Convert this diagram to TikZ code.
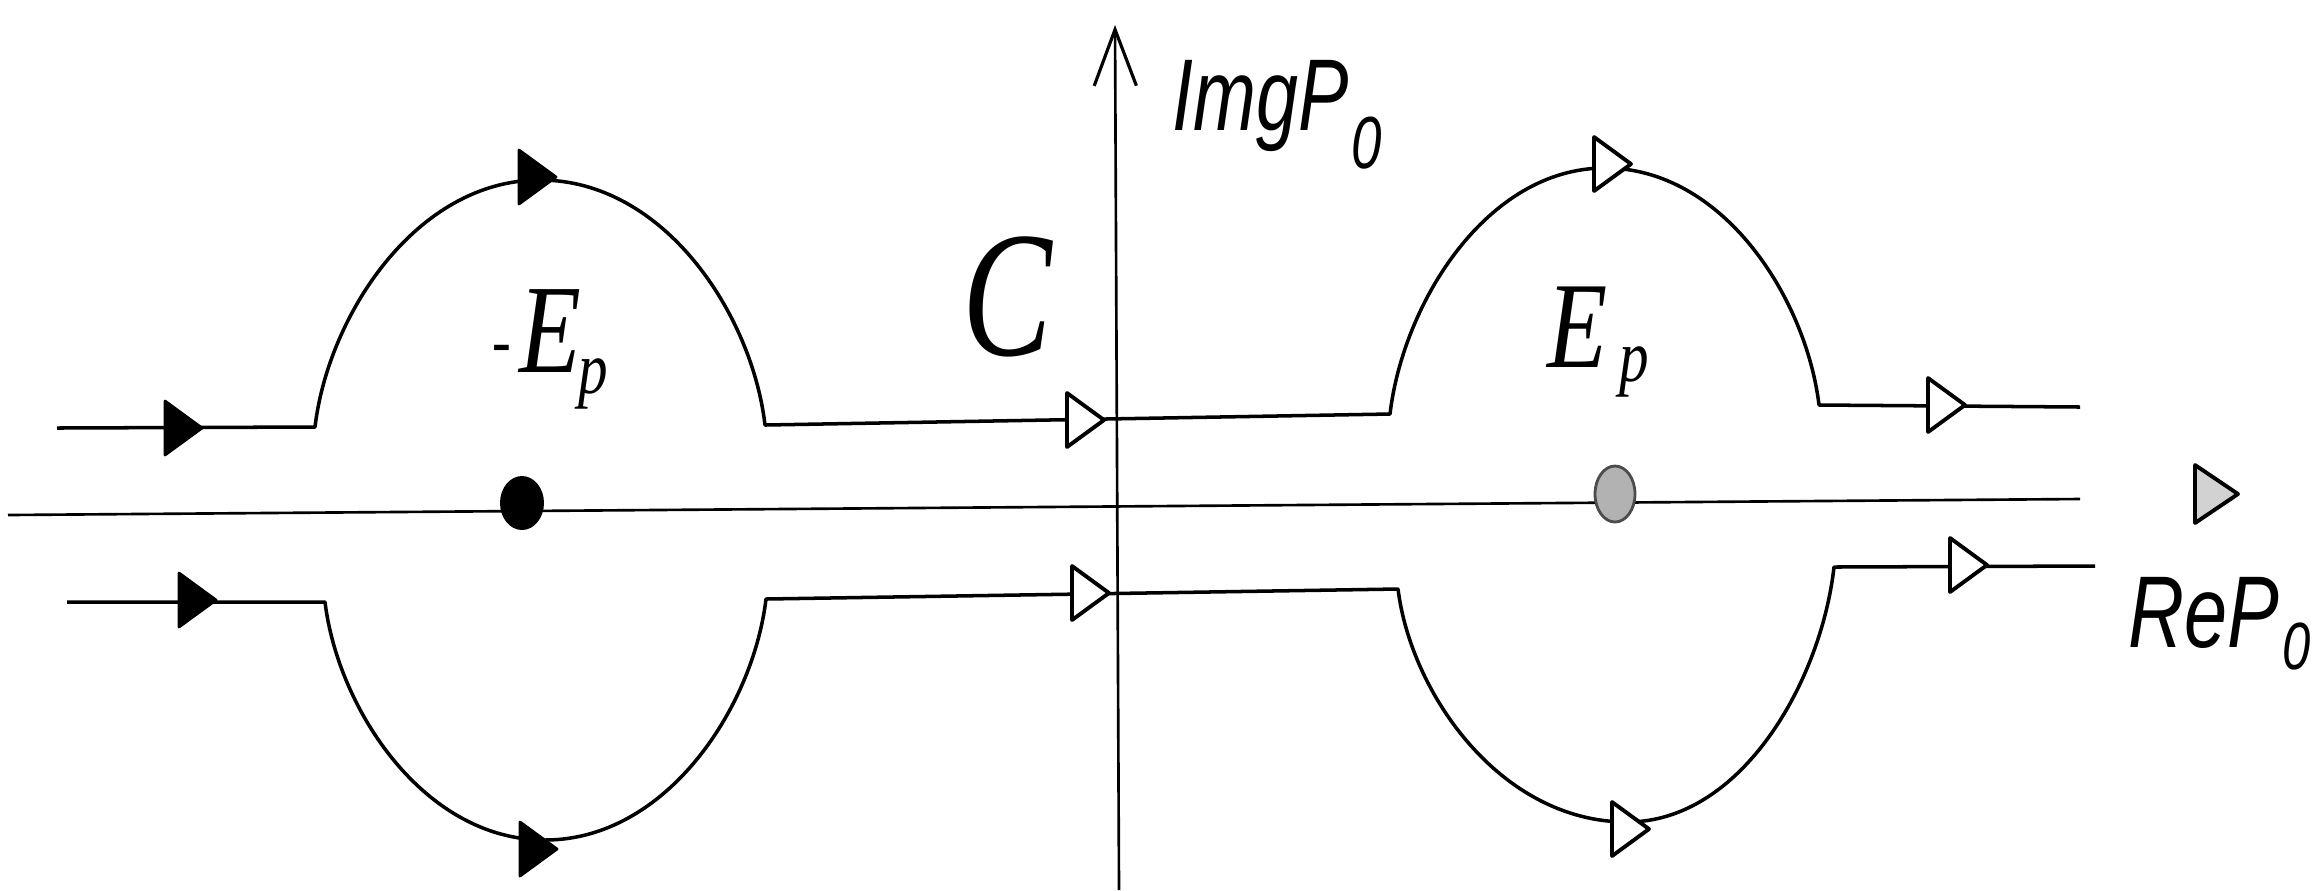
\documentclass[tikz,border=0pt]{standalone}
\usepackage{fontspec}
\usepackage{graphicx}
\newfontfamily\lsans{Liberation Sans}
\newfontfamily\lserif{Liberation Serif}
\usetikzlibrary{arrows.meta}
\begin{document}
\begin{tikzpicture}[x=0.01cm,y=-0.01cm,
  contour/.style={line width=1pt, line join=round},
  axis/.style={line width=0.75pt},
  lbl/.style={inner sep=0pt, anchor=base west},
  trifill/.pic={\fill[black, draw=black, line width=0.8pt, line join=round] (-18,-27) -- (19,0) -- (-18,27) -- cycle;},
  triopen/.pic={\filldraw[fill=white, draw=black, line width=1.1pt, line join=round] (-18,-27) -- (19,0) -- (-18,27) -- cycle;},
  tribig/.pic={\filldraw[fill=gray!35, draw=black, line width=1.1pt, line join=round] (-21,-29) -- (22,0) -- (-21,29) -- cycle;}
]
\useasboundingbox (0,0) rectangle (2319,890);

% real axis
\coordinate (reL) at (8,515);
\coordinate (reR) at (2080,499);
\draw[axis] (reL) -- (reR);
\pic at (2216,494) {tribig};

% imaginary axis
\coordinate (imB) at (1119,890);
\coordinate (imT) at (1115,25);
\draw[axis, -{Straight Barb[length=16pt,width=12pt,line width=0.9pt]}] (imB) -- (imT);

% upper contour
\draw[contour] (57,428) -- (315,427)
  .. controls (328,316) and (416,180) .. (540,180)
  .. controls (664,180) and (752,314) .. (765,425)
  -- (1390,414)
  .. controls (1403,303) and (1487,168) .. (1605,168)
  .. controls (1723,168) and (1806,298) .. (1819,405)
  -- (2080,407);

% lower contour
\draw[contour] (67,602) -- (325,602)
  .. controls (338,709) and (424,840) .. (545,840)
  .. controls (666,840) and (753,708) .. (766,599)
  -- (1398,589)
  .. controls (1411,694) and (1501,822) .. (1627,822)
  .. controls (1741,822) and (1821,682) .. (1834,567)
  -- (2095,566);

% arrowheads
\pic at (183,428) {trifill};
\pic at (537,177) {trifill};
\pic at (1085,420) {triopen};
\pic at (1612,164) {triopen};
\pic at (1946,405) {triopen};
\pic at (197,600) {trifill};
\pic at (538,849) {trifill};
\pic at (1090,593) {triopen};
\pic at (1630,829) {triopen};
\pic at (1968,565) {triopen};

% poles
\fill[black] (522,503) ellipse [x radius=22, y radius=27];
\filldraw[fill=gray!60, draw=black!70, line width=0.8pt] (1615,494) ellipse [x radius=20, y radius=28];

% labels
\node[lbl] (im) at (1172,130) {\lsans\itshape\fontsize{29}{29}\selectfont\scalebox{0.74}[1]{ImgP\kern1pt\raisebox{-11pt}{\fontsize{21}{21}\selectfont 0}}};
\node[lbl] (re) at (2128,647) {\lsans\itshape\fontsize{29}{29}\selectfont\scalebox{0.76}[1]{ReP\kern1pt\raisebox{-6.5pt}{\fontsize{19}{19}\selectfont 0}}};
\node[lbl] (c) at (962,355) {\lserif\itshape\fontsize{51}{51}\selectfont\scalebox{0.75}[1]{C}};
\node[lbl] (mep) at (492,372) {\lserif\itshape\fontsize{36}{36}\selectfont\scalebox{0.8}[1]{\raisebox{2pt}{\fontsize{20}{20}\selectfont -}\kern3pt E\kern-1pt\raisebox{-6pt}{\fontsize{21}{21}\selectfont p}}};
\node[lbl] (ep) at (1547,367) {\lserif\itshape\fontsize{35}{35}\selectfont\scalebox{0.8}[1]{E\kern4pt\raisebox{-4pt}{\fontsize{21}{21}\selectfont p}}};
\end{tikzpicture}
\end{document}
